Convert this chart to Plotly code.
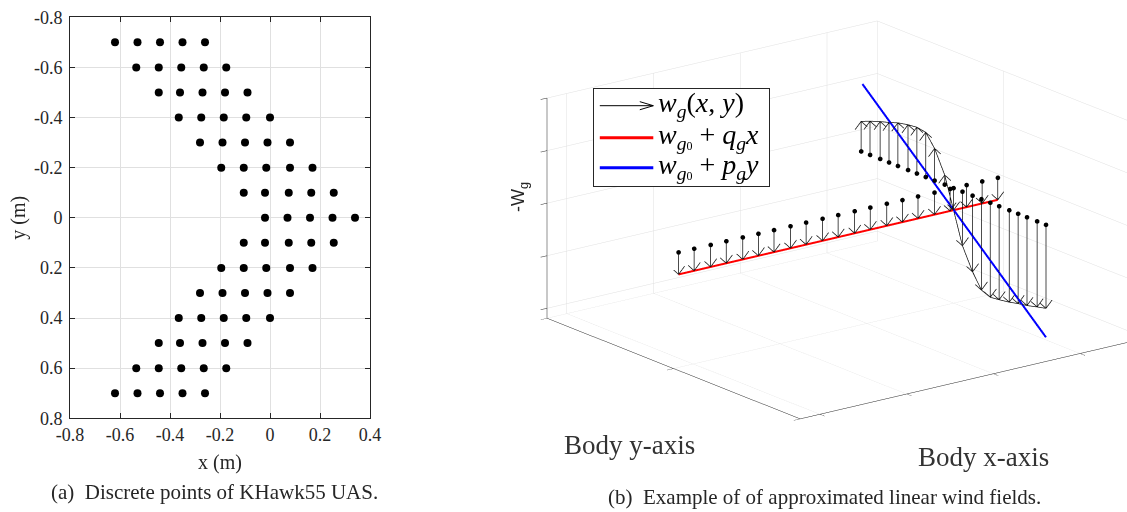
import plotly.graph_objects as go

W, H = 1127, 512
SERIF = "Liberation Serif"
SANS = "Liberation Sans"
INK = "#262626"
GRID = "#e0e0e0"

# ---------------- (a) discrete points of the airframe ----------------
row_y = [-0.7, -0.6, -0.5, -0.4, -0.3, -0.2, -0.1, 0.0,
         0.1, 0.2, 0.3, 0.4, 0.5, 0.6, 0.7]
row_x = [
    [-0.62, -0.53, -0.44, -0.35, -0.26],
    [-0.535, -0.445, -0.355, -0.265, -0.175],
    [-0.445, -0.36, -0.27, -0.18, -0.09],
    [-0.365, -0.275, -0.185, -0.095, 0.0],
    [-0.28, -0.19, -0.10, -0.01, 0.08],
    [-0.195, -0.105, -0.015, 0.08, 0.17],
    [-0.105, -0.02, 0.075, 0.165, 0.255],
    [-0.02, 0.07, 0.16, 0.25, 0.34],
    [-0.105, -0.02, 0.075, 0.165, 0.255],
    [-0.195, -0.105, -0.015, 0.08, 0.17],
    [-0.28, -0.19, -0.10, -0.01, 0.08],
    [-0.365, -0.275, -0.185, -0.095, 0.0],
    [-0.445, -0.36, -0.27, -0.18, -0.09],
    [-0.535, -0.445, -0.355, -0.265, -0.175],
    [-0.62, -0.53, -0.44, -0.35, -0.26],
]
a_xticks = [-0.8, -0.6, -0.4, -0.2, 0.0, 0.2, 0.4]
a_xticktext = ["-0.8", "-0.6", "-0.4", "-0.2", "0", "0.2", "0.4"]
a_yticks = [-0.8, -0.6, -0.4, -0.2, 0.0, 0.2, 0.4, 0.6, 0.8]
a_yticktext = ["-0.8", "-0.6", "-0.4", "-0.2", "0", "0.2", "0.4", "0.6", "0.8"]

# ---------------- (b) wind field samples and linear fits ----------------
# samples along the body x-axis (y = 0)
xline_x = [-3.17, -2.99, -2.80, -2.62, -2.43, -2.25, -2.07, -1.88, -1.70, -1.51, -1.33,
           -1.14, -0.96, -0.77, -0.59, -0.41, -0.22, -0.04, 0.15, 0.33, 0.51]
xline_negw = [-0.42, -0.42, -0.42, -0.42, -0.42, -0.42, -0.42, -0.42, -0.42, -0.42, -0.42,
              -0.42, -0.42, -0.42, -0.42, -0.42, -0.42, -0.42, -0.42, -0.42, -0.42]
# samples along the body y-axis (x = 0)
yline_y = [0.73, 0.66, 0.58, 0.51, 0.44, 0.36, 0.29, 0.22, 0.15, 0.07, 0.00,
           -0.07, -0.15, -0.22, -0.29, -0.36, -0.44, -0.51, -0.58, -0.66, -0.73]
yline_negw = [0.57, 0.64, 0.71, 0.76, 0.82, 0.86, 0.88, 0.85, 0.61, 0.18, -0.42,
              -1.03, -1.45, -1.73, -1.80, -1.78, -1.75, -1.71, -1.68, -1.63, -1.59]
base_level = 0.0
# linear fits: w_g0 + q_g x  and  w_g0 + p_g y
fitx_x = [-3.17, 0.51]
fitx_negw = [-0.42, -0.42]
fity_y = [0.72, -0.73]
fity_negw = [1.29, -2.14]

b_xrange = [-3.227, 0.579]
b_yrange = [-1.0, 1.0]
b_zrange = [-2.19, 2.0]
b_xticks = [-3, -2, -1, 0]
b_yticks = [-1, 0, 1]
b_zticks = [-2, -1, 0, 1, 2]


def arrow_segments(xs, ys, tips, base, hx=0.07, hz=0.13):
    X, Y, Z = [], [], []
    for x, y, t in zip(xs, ys, tips):
        s = 1.0 if t > base else -1.0
        X += [x, x, None, x - hx, x, x + hx, None]
        Y += [y, y, None, y, y, y, None]
        Z += [base, t, None, t - s * hz, t, t - s * hz, None]
    return X, Y, Z


fig = go.Figure()

# panel (a)
pts_x, pts_y = [], []
for yv, xs in zip(row_y, row_x):
    for xv in xs:
        pts_x.append(xv)
        pts_y.append(yv)
fig.add_trace(go.Scatter(x=pts_x, y=pts_y, mode="markers",
                         marker=dict(size=8, color="black"),
                         showlegend=False, xaxis="x", yaxis="y"))

# panel (b)
ax_, ay_, az_ = arrow_segments(xline_x, [0.0] * len(xline_x), xline_negw, base_level)
bx_, by_, bz_ = arrow_segments([0.0] * len(yline_y), yline_y, yline_negw, base_level)
fig.add_trace(go.Scatter3d(x=ax_ + bx_, y=ay_ + by_, z=az_ + bz_, mode="lines",
                           line=dict(color="#111111", width=1.5), showlegend=False,
                           scene="scene"))
fig.add_trace(go.Scatter3d(x=[0.0] * len(yline_y), y=yline_y, z=yline_negw, mode="lines",
                           line=dict(color="#111111", width=1.5), showlegend=False,
                           scene="scene"))
fig.add_trace(go.Scatter3d(x=xline_x + [0.0] * len(yline_y),
                           y=[0.0] * len(xline_x) + yline_y,
                           z=[base_level] * (len(xline_x) + len(yline_y)),
                           mode="markers", marker=dict(size=2.7, color="black"),
                           showlegend=False, scene="scene"))
fig.add_trace(go.Scatter3d(x=fitx_x, y=[0.0, 0.0], z=fitx_negw, mode="lines",
                           line=dict(color="#ff0000", width=4), showlegend=False,
                           scene="scene"))
fig.add_trace(go.Scatter3d(x=[0.0, 0.0], y=fity_y, z=fity_negw, mode="lines",
                           line=dict(color="#0000ff", width=4), showlegend=False,
                           scene="scene"))

axis3d = dict(showticklabels=False, title=dict(text=""), showgrid=True, gridcolor=GRID,
              gridwidth=1, showline=True, linecolor=INK, linewidth=1, ticks="outside",
              ticklen=8, tickcolor=INK, tickwidth=1, showbackground=False,
              zeroline=False, showspikes=False)

# orthographic view: look direction from the box centre towards the eye
view_dir = (-0.5795, -0.7559, 0.3048)
view_dist = 2.5
look_at = (-0.0437, 0.0158, -0.0438)

fig.update_layout(
    width=W, height=H,
    margin=dict(l=0, r=0, t=0, b=0),
    paper_bgcolor="white", plot_bgcolor="white",
    font=dict(family=SERIF, color=INK),
    xaxis=dict(domain=[70 / W, 370 / W], range=[-0.8, 0.4], automargin=False,
               tickvals=a_xticks, ticktext=a_xticktext, ticks="inside", ticklen=5,
               tickcolor=INK, showline=True, linecolor=INK, mirror="ticks",
               showgrid=True, gridcolor=GRID, zeroline=False,
               tickfont=dict(size=18, family=SERIF, color=INK),
               title=dict(text="x (m)", font=dict(size=20, family=SERIF, color=INK), standoff=11)),
    yaxis=dict(domain=[1 - 418.3 / H, 1 - 17.3 / H], range=[0.8, -0.8], automargin=False,
               tickvals=a_yticks, ticktext=a_yticktext, ticks="inside", ticklen=5,
               tickcolor=INK, showline=True, linecolor=INK, mirror="ticks",
               showgrid=True, gridcolor=GRID, zeroline=False, ticklabelstandoff=3,
               tickfont=dict(size=18, family=SERIF, color=INK),
               title=dict(text="y (m)", font=dict(size=20, family=SERIF, color=INK), standoff=2)),
    scene=dict(
        domain=dict(x=[0.47, 1.0], y=[0.10, 1.0]),
        xaxis=dict(axis3d, range=b_xrange, tickvals=b_xticks),
        yaxis=dict(axis3d, range=b_yrange, tickvals=b_yticks),
        zaxis=dict(axis3d, range=b_zrange, tickvals=b_zticks),
        aspectmode="manual", aspectratio=dict(x=1.805, y=1.805, z=1.003),
        camera=dict(eye=dict(x=look_at[0] + view_dir[0] * view_dist,
                             y=look_at[1] + view_dir[1] * view_dist,
                             z=look_at[2] + view_dir[2] * view_dist),
                    up=dict(x=0, y=0, z=1),
                    center=dict(x=look_at[0], y=look_at[1], z=look_at[2]),
                    projection=dict(type="orthographic")),
        bgcolor="rgba(0,0,0,0)",
    ),
)


def px(xp, yp):
    return xp / W, 1 - yp / H


annotations = []


def text_at(xp, yp, txt, size, family=SERIF, xanchor="center", angle=0, color=INK):
    x, y = px(xp, yp)
    annotations.append(dict(x=x, y=y, xref="paper", yref="paper", text=txt, showarrow=False,
                            xanchor=xanchor, yanchor="middle", textangle=angle,
                            font=dict(size=size, family=family, color=color)))


def seg(x0, y0, x1, y1, color, width):
    x, y = px(x1, y1)
    annotations.append(dict(x=x, y=y, xref="paper", yref="paper", text="", showarrow=True,
                            arrowhead=0, arrowwidth=width, arrowcolor=color,
                            ax=x0 - x1, ay=y0 - y1, axref="pixel", ayref="pixel",
                            standoff=0, startstandoff=0))


# captions and axis names
text_at(214.5, 492, "(a)  Discrete points of KHawk55 UAS.", 21)
text_at(824, 497, "(b)  Example of of approximated linear wind fields.", 21)
text_at(630, 445, "Body y-axis", 27, color="#333333")
text_at(983, 457, "Body x-axis", 27, color="#333333")
text_at(519, 197, "-W<sub>g</sub>", 18, family=SANS, angle=-90)

# legend frame
lx, ly = px(593.3, 87.7)
annotations.append(dict(x=lx, y=ly, xref="paper", yref="paper", text=" ", showarrow=False,
                        xanchor="left", yanchor="top", width=175, height=97,
                        bgcolor="white", bordercolor=INK, borderwidth=1, borderpad=0))
# legend keys
seg(598.3, 105.7, 653.3, 105.7, "black", 1)
seg(638.3, 101.2, 653.3, 105.7, "black", 1)
seg(638.3, 110.2, 653.3, 105.7, "black", 1)
seg(598.3, 137.7, 653.3, 137.7, "#ff0000", 3)
seg(598.3, 167.7, 653.3, 167.7, "#0000ff", 3)
# legend labels
g0 = "<sub><i>g</i><span style='font-size:12px'>0</span></sub>"
text_at(656, 104, "<i>w</i><sub><i>g</i></sub>(<i>x</i>, <i>y</i>)", 28, xanchor="left", color="black")
text_at(656, 136, "<i>w</i>" + g0 + " + <i>q</i><sub><i>g</i></sub><i>x</i>", 28, xanchor="left", color="black")
text_at(656, 166, "<i>w</i>" + g0 + " + <i>p</i><sub><i>g</i></sub><i>y</i>", 28, xanchor="left", color="black")

fig.update_layout(annotations=annotations)

fig.write_html("out.html")
